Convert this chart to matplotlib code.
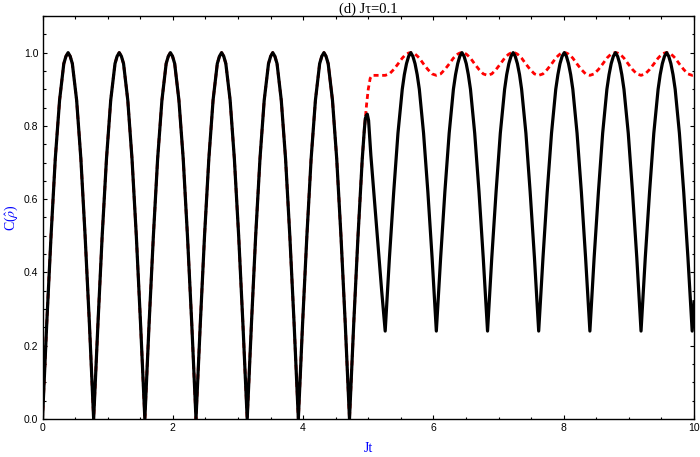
import numpy as np
import matplotlib
matplotlib.use("Agg")
import matplotlib.pyplot as plt
from matplotlib.ticker import MultipleLocator

# ---------------- data ----------------
# common part (both curves coincide): |sin|-like arcs, zeros every ~0.785
t_common = [0.000, 0.065, 0.131, 0.196, 0.262, 0.295, 0.327, 0.360, 0.393, 0.425, 0.458, 0.491, 0.524, 0.589, 0.654, 0.720,
            0.785, 0.851, 0.916, 0.982, 1.047, 1.080, 1.113, 1.145, 1.178, 1.211, 1.244, 1.276, 1.309, 1.374, 1.440, 1.505,
            1.571, 1.636, 1.702, 1.767, 1.833, 1.865, 1.898, 1.931, 1.963, 1.996, 2.029, 2.062, 2.094, 2.160, 2.225, 2.291,
            2.356, 2.422, 2.487, 2.553, 2.618, 2.651, 2.683, 2.716, 2.749, 2.782, 2.814, 2.847, 2.880, 2.945, 3.011, 3.076,
            3.142, 3.207, 3.272, 3.338, 3.403, 3.436, 3.469, 3.502, 3.534, 3.567, 3.600, 3.633, 3.665, 3.731, 3.796, 3.862,
            3.927, 3.992, 4.058, 4.123, 4.189, 4.221, 4.254, 4.287, 4.320, 4.352, 4.385, 4.418, 4.451, 4.516, 4.581, 4.647,
            4.712, 4.777, 4.843, 4.908, 4.940, 4.955]
c_common = [0.00, 0.26, 0.50, 0.71, 0.87, 0.92, 0.97, 0.99, 1.00, 0.99, 0.97, 0.92, 0.87, 0.71, 0.50, 0.26,
            0.00, 0.26, 0.50, 0.71, 0.87, 0.92, 0.97, 0.99, 1.00, 0.99, 0.97, 0.92, 0.87, 0.71, 0.50, 0.26,
            0.00, 0.26, 0.50, 0.71, 0.87, 0.92, 0.97, 0.99, 1.00, 0.99, 0.97, 0.92, 0.87, 0.71, 0.50, 0.26,
            0.00, 0.26, 0.50, 0.71, 0.87, 0.92, 0.97, 0.99, 1.00, 0.99, 0.97, 0.92, 0.87, 0.71, 0.50, 0.26,
            0.00, 0.26, 0.50, 0.71, 0.87, 0.92, 0.97, 0.99, 1.00, 0.99, 0.97, 0.92, 0.87, 0.71, 0.50, 0.26,
            0.00, 0.26, 0.50, 0.71, 0.87, 0.92, 0.97, 0.99, 1.00, 0.99, 0.97, 0.92, 0.87, 0.71, 0.50, 0.26,
            0.00, 0.26, 0.50, 0.71, 0.79, 0.82]

# switching region around Jt = 5
t_black_switch = [4.970, 4.985, 5.005, 5.040, 5.120, 5.206]
c_black_switch = [0.828, 0.832, 0.815, 0.72, 0.54, 0.35]
t_red_switch = [4.975, 5.000, 5.030, 5.060, 5.150]
c_red_switch = [0.86, 0.90, 0.93, 0.938, 0.938]

# late part (Jt > 5.25)
t_late = [5.260, 5.325, 5.391, 5.456, 5.522, 5.554, 5.587, 5.620, 5.653, 5.685, 5.718, 5.751, 5.784, 5.849, 5.915, 5.980,
          6.045, 6.111, 6.176, 6.242, 6.307, 6.340, 6.373, 6.405, 6.438, 6.471, 6.504, 6.536, 6.569, 6.634, 6.700, 6.765,
          6.831, 6.896, 6.962, 7.027, 7.093, 7.125, 7.158, 7.191, 7.224, 7.256, 7.289, 7.322, 7.354, 7.420, 7.485, 7.551,
          7.616, 7.682, 7.747, 7.813, 7.878, 7.911, 7.943, 7.976, 8.009, 8.042, 8.074, 8.107, 8.140, 8.205, 8.271, 8.336,
          8.402, 8.467, 8.533, 8.598, 8.663, 8.696, 8.729, 8.762, 8.794, 8.827, 8.860, 8.892, 8.925, 8.991, 9.056, 9.122,
          9.187, 9.252, 9.318, 9.383, 9.449, 9.481, 9.514, 9.547, 9.580, 9.612, 9.645, 9.678, 9.711, 9.776, 9.842, 9.907,
          9.972, 10.000]
c_black_late = [0.24, 0.44, 0.62, 0.78, 0.90, 0.94, 0.97, 0.99, 1.00, 0.99, 0.97, 0.94, 0.90, 0.78, 0.62, 0.44,
                0.24, 0.44, 0.62, 0.78, 0.90, 0.94, 0.97, 0.99, 1.00, 0.99, 0.97, 0.94, 0.90, 0.78, 0.62, 0.44,
                0.24, 0.44, 0.62, 0.78, 0.90, 0.94, 0.97, 0.99, 1.00, 0.99, 0.97, 0.94, 0.90, 0.78, 0.62, 0.44,
                0.24, 0.44, 0.62, 0.78, 0.90, 0.94, 0.97, 0.99, 1.00, 0.99, 0.97, 0.94, 0.90, 0.78, 0.62, 0.44,
                0.24, 0.44, 0.62, 0.78, 0.90, 0.94, 0.97, 0.99, 1.00, 0.99, 0.97, 0.94, 0.90, 0.78, 0.62, 0.44,
                0.24, 0.44, 0.62, 0.78, 0.90, 0.94, 0.97, 0.99, 1.00, 0.99, 0.97, 0.94, 0.90, 0.78, 0.62, 0.44,
                0.24, 0.32]
c_red_late = [0.938, 0.942, 0.954, 0.969, 0.985, 0.991, 0.996, 0.999, 1.000, 0.999, 0.996, 0.991, 0.985, 0.969, 0.954, 0.942,
              0.938, 0.942, 0.954, 0.969, 0.985, 0.991, 0.996, 0.999, 1.000, 0.999, 0.996, 0.991, 0.985, 0.969, 0.954, 0.942,
              0.938, 0.942, 0.954, 0.969, 0.985, 0.991, 0.996, 0.999, 1.000, 0.999, 0.996, 0.991, 0.985, 0.969, 0.954, 0.942,
              0.938, 0.942, 0.954, 0.969, 0.985, 0.991, 0.996, 0.999, 1.000, 0.999, 0.996, 0.991, 0.985, 0.969, 0.954, 0.942,
              0.938, 0.942, 0.954, 0.969, 0.985, 0.991, 0.996, 0.999, 1.000, 0.999, 0.996, 0.991, 0.985, 0.969, 0.954, 0.942,
              0.938, 0.942, 0.954, 0.969, 0.985, 0.991, 0.996, 0.999, 1.000, 0.999, 0.996, 0.991, 0.985, 0.969, 0.954, 0.942,
              0.938, 0.939]

x_ticks = [0, 2, 4, 6, 8, 10]
x_ticklabels = ["0", "2", "4", "6", "8", "10"]
y_ticks = [0.0, 0.2, 0.4, 0.6, 0.8, 1.0]
y_ticklabels = ["0.0", "0.2", "0.4", "0.6", "0.8", "1.0"]
title_text = "(d) J\u03c4=0.1"
xlabel_text = "Jt"
ylabel_text = r"C($\hat{\rho}$)"

# ---------------- plotting ----------------
plt.rcParams["mathtext.fontset"] = "stix"
fig = plt.figure(figsize=(7.0, 4.57), dpi=100)
ax = fig.add_axes([42.5 / 700, 38 / 457, (694 - 42.5) / 700, (419 - 16) / 457])

t_red = np.concatenate([t_common, t_red_switch, t_late])
c_red = np.concatenate([c_common, c_red_switch, c_red_late])
t_blk = np.concatenate([t_common, t_black_switch, t_late])
c_blk = np.concatenate([c_common, c_black_switch, c_black_late])

ax.plot(t_red, c_red, color="#ff0000", lw=2.0, linestyle=(0, (1.8, 1.3)),
        dash_capstyle="butt", zorder=2)
ax.plot(t_blk, c_blk, color="black", lw=2.3, solid_joinstyle="round", zorder=3)

ax.set_xlim(0, 10)
ax.set_ylim(0, 1.1)
ax.set_xticks(x_ticks)
ax.set_xticklabels(x_ticklabels)
ax.set_yticks(y_ticks)
ax.set_yticklabels(y_ticklabels)
ax.xaxis.set_minor_locator(MultipleLocator(0.5))
ax.yaxis.set_minor_locator(MultipleLocator(0.05))
ax.tick_params(which="both", direction="in", top=True, right=True,
               labelsize=7.5, width=0.8, colors="black")
ax.tick_params(which="major", length=3.2, pad=3)
ax.tick_params(which="minor", length=1.8)
for lab in ax.get_xticklabels() + ax.get_yticklabels():
    lab.set_family("Liberation Sans")
for s in ax.spines.values():
    s.set_linewidth(1.0)

ax.set_title(title_text, family="Liberation Serif", fontsize=10.5, pad=2)
ax.set_xlabel(xlabel_text, family="Liberation Serif", fontsize=10, color="blue", labelpad=6)
ax.set_ylabel(ylabel_text, family="Liberation Serif", fontsize=10, color="blue", labelpad=3)

fig.savefig("out.png", dpi=100)
